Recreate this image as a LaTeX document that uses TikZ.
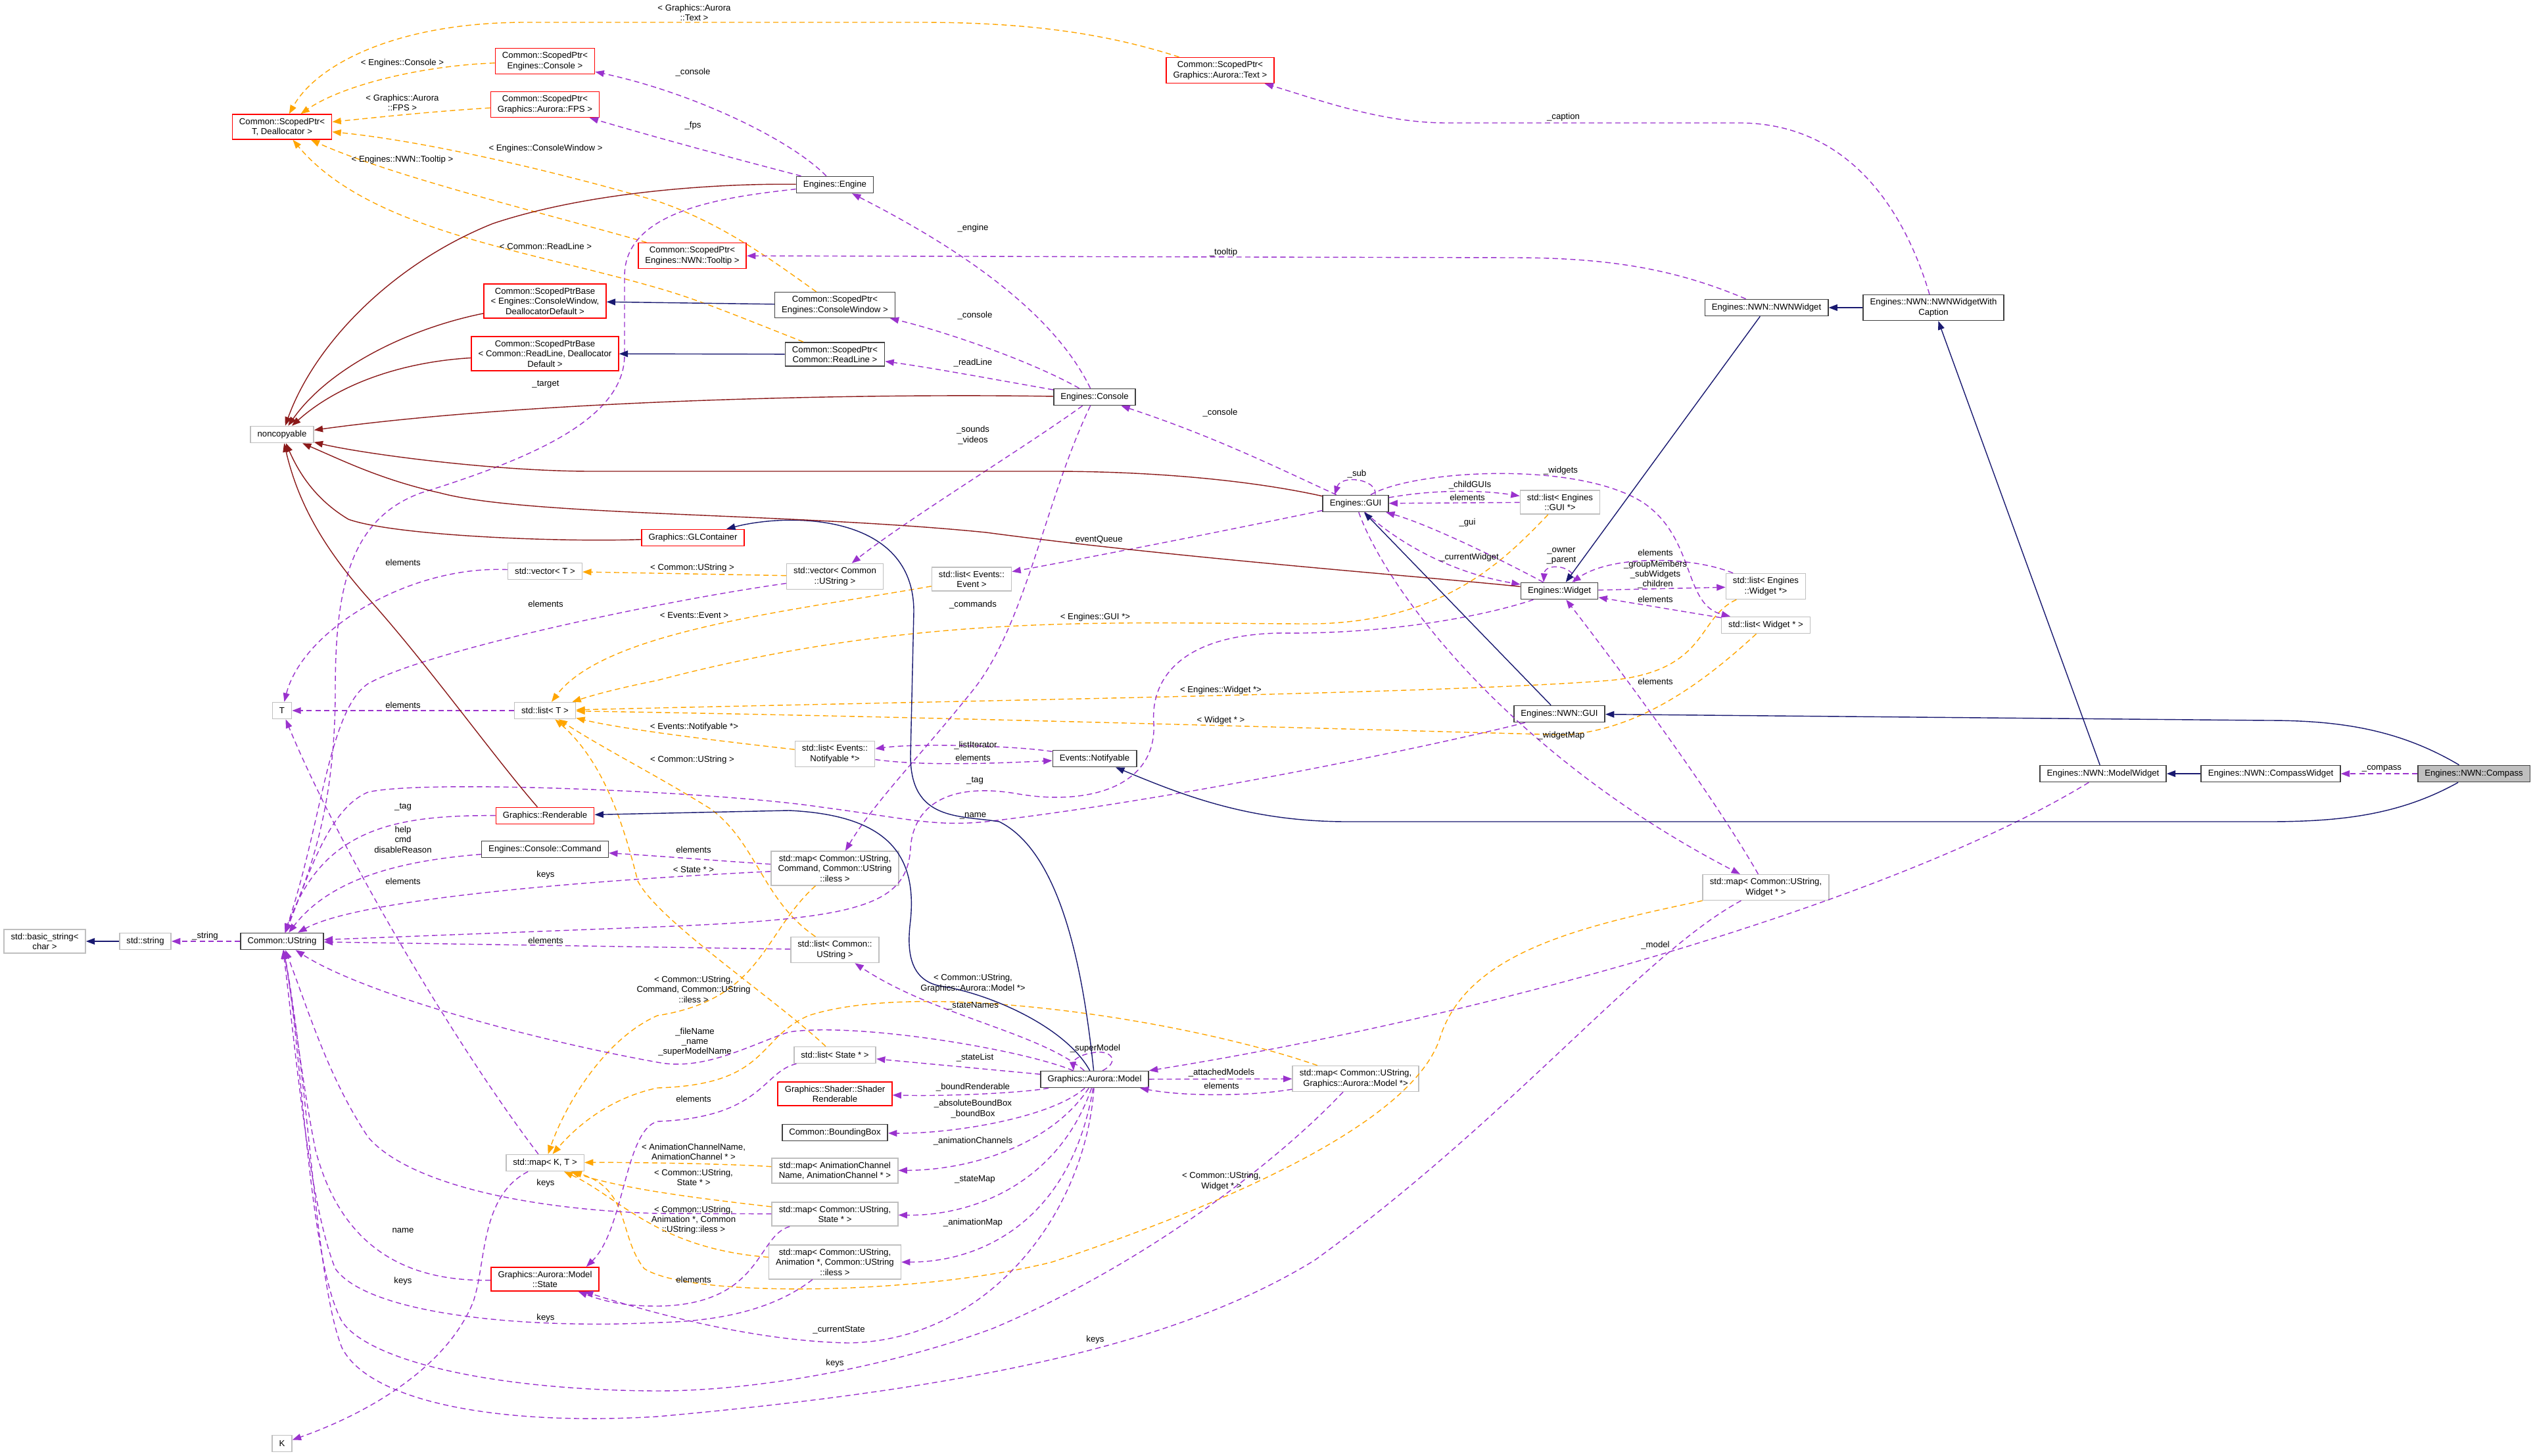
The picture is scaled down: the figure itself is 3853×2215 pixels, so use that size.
\documentclass[tikz,border=0pt]{standalone}
\usepackage{fontspec}
\setmainfont{Liberation Sans}
\usetikzlibrary{arrows.meta,calc}
\definecolor{usecol}{HTML}{9A32CD}
\definecolor{tmplcol}{HTML}{FFA500}
\definecolor{pubcol}{HTML}{191970}
\definecolor{privcol}{HTML}{8B1A1A}
\tikzset{
  cls/.style={draw=black!75, rectangle, inner xsep=3pt, inner ysep=1.6pt, minimum height=0.25cm, align=center, font=\fontsize{3.75}{4.35}\selectfont, line width=0.45pt},
  redcls/.style={cls, draw=red},
  greycls/.style={cls, draw=black!25},
  lbl/.style={inner sep=0pt, align=center, font=\fontsize{3.75}{4.35}\selectfont},
  usage/.style={draw=usecol, line width=0.4pt, dash pattern=on 2.3pt off 1.5pt, -{Triangle[length=3.8pt,width=2.8pt]}},
  templ/.style={usage, draw=tmplcol},
  pubinh/.style={draw=pubcol, line width=0.4pt, -{Triangle[length=3.8pt,width=2.8pt]}},
  privinh/.style={pubinh, draw=privcol}
}
\begin{document}
\begin{tikzpicture}[x=0.01cm, y=-0.01cm]
\useasboundingbox (0,0) rectangle (3853,2215);
% classes
\node[redcls] (ptrT) at (429,193) {Common::ScopedPtr\textless\\T, Deallocator \textgreater};
\node[redcls] (ptrCon) at (829,93) {Common::ScopedPtr\textless\\Engines::Console \textgreater};
\node[redcls] (ptrFPS) at (829,159) {Common::ScopedPtr\textless\\Graphics::Aurora::FPS \textgreater};
\node[redcls] (ptrTip) at (1053,389) {Common::ScopedPtr\textless\\Engines::NWN::Tooltip \textgreater};
\node[redcls] (baseCW) at (829,458) {Common::ScopedPtrBase\\\textless{} Engines::ConsoleWindow,\\DeallocatorDefault \textgreater};
\node[redcls] (baseRL) at (829,538) {Common::ScopedPtrBase\\\textless{} Common::ReadLine, Deallocator\\Default \textgreater};
\node[greycls] (noncopy) at (429,661) {noncopyable};
\node[redcls] (ptrText) at (1856,107) {Common::ScopedPtr\textless\\Graphics::Aurora::Text \textgreater};
\node[cls] (engine) at (1270,281) {Engines::Engine};
\node[cls] (ptrCW) at (1270,464) {Common::ScopedPtr\textless\\Engines::ConsoleWindow \textgreater};
\node[cls] (ptrRL) at (1270,539) {Common::ScopedPtr\textless\\Common::ReadLine \textgreater};
\node[cls] (console) at (1665,604) {Engines::Console};
\node[cls] (nwnWidget) at (2687,468) {Engines::NWN::NWNWidget};
\node[cls] (nwnCaption) at (2941,468) {Engines::NWN::NWNWidgetWith\\Caption};
\node[cls] (gui) at (2062,766) {Engines::GUI};
\node[greycls] (listGUI) at (2373,764) {std::list\textless{} Engines\\::GUI *\textgreater};
\node[cls] (widget) at (2372,899) {Engines::Widget};
\node[greycls] (listEW) at (2686,892) {std::list\textless{} Engines\\::Widget *\textgreater};
\node[greycls] (listW) at (2686,951) {std::list\textless{} Widget * \textgreater};
\node[cls] (nwnGUI) at (2372,1086) {Engines::NWN::GUI};
\node[greycls] (mapW) at (2686,1350) {std::map\textless{} Common::UString,\\Widget * \textgreater};
\node[cls] (modelW) at (3199,1177) {Engines::NWN::ModelWidget};
\node[cls] (compassW) at (3454,1177) {Engines::NWN::CompassWidget};
\node[cls, fill=black!25] (compass) at (3763,1177) {Engines::NWN::Compass};
\node[redcls] (glc) at (1054,818) {Graphics::GLContainer};
\node[greycls] (vecT) at (829,869) {std::vector\textless{} T \textgreater};
\node[greycls] (T) at (429,1081) {T};
\node[greycls] (listT) at (829,1081) {std::list\textless{} T \textgreater};
\node[redcls] (rend) at (829,1241) {Graphics::Renderable};
\node[cls] (cmd) at (829,1292) {Engines::Console::Command};
\node[greycls] (bstr) at (68,1432) {std::basic\_string\textless\\char \textgreater};
\node[greycls] (sstr) at (221,1432) {std::string};
\node[cls] (ustr) at (429,1432) {Common::UString};
\node[greycls] (vecU) at (1270,877) {std::vector\textless{} Common\\::UString \textgreater};
\node[greycls] (listEv) at (1478,881) {std::list\textless{} Events::\\Event \textgreater};
\node[greycls] (listN) at (1270,1147) {std::list\textless{} Events::\\Notifyable *\textgreater};
\node[cls] (notif) at (1665,1154) {Events::Notifyable};
\node[greycls] (mapCmd) at (1270,1321) {std::map\textless{} Common::UString,\\Command, Common::UString\\::iless \textgreater};
\node[greycls] (listU) at (1270,1445) {std::list\textless{} Common::\\UString \textgreater};
\node[greycls] (mapKT) at (829,1769) {std::map\textless{} K, T \textgreater};
\node[redcls] (state) at (829,1946) {Graphics::Aurora::Model\\::State};
\node[greycls] (K) at (429,2196) {K};
\node[greycls] (listS) at (1270,1605) {std::list\textless{} State * \textgreater};
\node[cls] (model) at (1665,1642) {Graphics::Aurora::Model};
\node[greycls] (mapM) at (2062,1641) {std::map\textless{} Common::UString,\\Graphics::Aurora::Model *\textgreater};
\node[redcls] (shader) at (1270,1664) {Graphics::Shader::Shader\\Renderable};
\node[cls] (bbox) at (1270,1723) {Common::BoundingBox};
\node[greycls] (mapAC) at (1270,1781) {std::map\textless{} AnimationChannel\\Name, AnimationChannel * \textgreater};
\node[greycls] (mapS) at (1270,1847) {std::map\textless{} Common::UString,\\State * \textgreater};
\node[greycls] (mapA) at (1270,1920) {std::map\textless{} Common::UString,\\Animation *, Common::UString\\::iless \textgreater};

%------------------------------------------------
% template instances
\draw[templ] (ptrText) .. controls (1680,50) and (1560,34) .. (1400,34) -- (800,34) .. controls (600,34) and (480,100) .. (ptrT);
\draw[templ] (ptrCon) .. controls (640,100) and (520,130) .. (ptrT);
\draw[templ] (ptrFPS) .. controls (650,170) and (560,180) .. (ptrT);
\draw[templ] (ptrCW) .. controls (1180,400) and (1100,340) .. (1000,306) .. controls (850,262) and (650,215) .. (ptrT);
\draw[templ] (ptrTip) .. controls (850,330) and (600,270) .. (ptrT);
\draw[templ] (ptrRL) .. controls (1120,480) and (1060,455) .. (1000,438) .. controls (800,380) and (560,350) .. (ptrT);
\draw[templ] (vecU) -- (vecT);
\draw[templ] (listEv) .. controls (1200,930) and (920,960) .. (listT);
\draw[templ] (listGUI) .. controls (2290,850) and (2200,945) .. (2000,949) .. controls (1700,949) and (1400,930) .. (1000,1035) .. controls (950,1045) and (910,1055) .. (listT);
\draw[templ] (listEW) .. controls (2580,940) and (2600,1020) .. (2450,1035) .. controls (2200,1055) and (1500,1065) .. (listT);
\draw[templ] (listW) .. controls (2600,1030) and (2500,1110) .. (2380,1118) .. controls (2000,1108) and (1400,1090) .. (listT);
\draw[templ] (listN) .. controls (1100,1128) and (950,1110) .. (listT);
\draw[templ] (listU) .. controls (1160,1370) and (1150,1280) .. (1080,1230) .. controls (1000,1180) and (920,1140) .. (listT);
\draw[templ] (listS) .. controls (1180,1520) and (1000,1400) .. (970,1340) .. controls (950,1260) and (920,1160) .. (listT);
\draw[templ] (mapCmd) .. controls (1160,1420) and (1160,1520) .. (1000,1545) .. controls (920,1580) and (860,1680) .. (mapKT);
\draw[templ] (mapM) .. controls (1800,1550) and (1400,1490) .. (1230,1545) .. controls (1150,1580) and (1170,1650) .. (1000,1655) .. controls (930,1670) and (880,1710) .. (mapKT);
\draw[templ] (mapAC) .. controls (1100,1770) and (950,1768) .. (mapKT);
\draw[templ] (mapS) .. controls (1080,1825) and (950,1810) .. (mapKT);
\draw[templ] (mapA) .. controls (1000,1900) and (940,1820) .. (mapKT);
\draw[templ] (mapW) .. controls (2400,1410) and (2230,1450) .. (2190,1580) .. controls (2150,1700) and (1900,1820) .. (1600,1920) .. controls (1400,1970) and (1050,1975) .. (980,1930) .. controls (940,1880) and (960,1810) .. (mapKT);

%------------------------------------------------
% members
\draw[usage] (engine) .. controls (1200,210) and (1050,140) .. (ptrCon);
\draw[usage] (engine) .. controls (1150,250) and (1000,210) .. (ptrFPS);
\draw[usage] (nwnWidget) .. controls (2550,410) and (2450,392) .. (2300,392) -- (ptrTip);
\draw[usage] (nwnCaption) .. controls (2900,330) and (2820,190) .. (2650,187) -- (2200,187) .. controls (2100,187) and (2000,150) .. (ptrText);
\draw[usage] (console) .. controls (1600,470) and (1450,373) .. (engine);
\draw[usage] (console) .. controls (1570,550) and (1440,505) .. (ptrCW);
\draw[usage] (console) .. controls (1500,575) and (1420,560) .. (ptrRL);
\draw[usage] (gui) .. controls (1950,715) and (1850,665) .. (console);
\draw[usage] (console) .. controls (1560,680) and (1380,790) .. (vecU);
\draw[usage] (console) .. controls (1590,760) and (1560,950) .. (1480,1050) .. controls (1400,1150) and (1330,1220) .. (mapCmd);
\draw[usage] (gui) .. controls (1900,800) and (1700,840) .. (listEv);
\draw[usage] ($(gui.north)+(30,0)$) .. controls (2095,728) and (2040,722) .. ($(gui.north)+(-32,0)$);
\draw[usage] (gui) .. controls (2180,745) and (2250,745) .. (listGUI);
\draw[usage] (listGUI) -- (gui);
\draw[usage] (widget) .. controls (2300,860) and (2180,800) .. (gui);
\draw[usage] (gui) .. controls (2120,820) and (2200,870) .. (widget);
\draw[usage] ($(widget.north)+(23,0)$) .. controls (2398,860) and (2350,855) .. ($(widget.north)+(-24,0)$);
\draw[usage] (listEW) .. controls (2570,845) and (2450,845) .. (widget);
\draw[usage] (widget) -- (listEW);
\draw[usage] (listW) -- (widget);
\draw[usage] (gui) .. controls (2150,715) and (2400,700) .. (2500,765) .. controls (2580,820) and (2560,920) .. (listW);
\draw[usage] (gui) .. controls (2110,900) and (2300,1150) .. (mapW);
\draw[usage] (mapW) .. controls (2600,1200) and (2450,1000) .. (widget);
\draw[usage] (compass) -- (compassW);
\draw[usage] (modelW) .. controls (2900,1360) and (2300,1540) .. (model);
\draw[usage] (notif) .. controls (1550,1135) and (1400,1130) .. (listN);
\draw[usage] (listN) .. controls (1400,1165) and (1500,1162) .. (notif);
\draw[usage] (nwnGUI) .. controls (2200,1130) and (1800,1215) .. (1500,1250) .. controls (1420,1258) and (1380,1245) .. (1250,1228) .. controls (1100,1205) and (650,1185) .. (560,1205) .. controls (500,1230) and (470,1330) .. (ustr);
\draw[usage] (widget) .. controls (2250,940) and (2100,965) .. (1950,963) .. controls (1800,965) and (1750,1030) .. (1755,1100) .. controls (1760,1200) and (1650,1225) .. (1550,1208) .. controls (1450,1190) and (1390,1220) .. (1385,1290) .. controls (1380,1380) and (1300,1398) .. (1000,1410) -- (ustr);
\draw[usage] (engine) .. controls (1100,300) and (950,320) .. (950,420) -- (950,540) .. controls (950,640) and (800,700) .. (640,750) .. controls (530,790) and (510,900) .. (510,1050) .. controls (510,1250) and (460,1350) .. (ustr);
\draw[usage] (vecT) .. controls (620,860) and (460,960) .. (T);
\draw[usage] (vecU) .. controls (1000,915) and (650,990) .. (560,1040) .. controls (500,1080) and (490,1250) .. (ustr);
\draw[usage] (listT) -- (T);
\draw[usage] (mapKT) .. controls (700,1600) and (520,1300) .. (T);
\draw[usage] (rend) .. controls (600,1240) and (490,1260) .. (ustr);
\draw[usage] (cmd) .. controls (600,1310) and (500,1340) .. (ustr);
\draw[usage] (mapCmd) .. controls (1000,1334) and (560,1360) .. (ustr);
\draw[usage] (mapCmd) .. controls (1100,1310) and (1000,1302) .. (cmd);
\draw[usage] (listU) -- (ustr);
\draw[usage] (ustr) -- (sstr);
\draw[usage] (model) .. controls (1550,1595) and (1300,1555) .. (1200,1570) .. controls (1140,1590) and (1070,1630) .. (1000,1616) .. controls (800,1580) and (550,1510) .. (ustr);
\draw[usage] (state) .. controls (620,1950) and (520,1900) .. (480,1750) .. controls (460,1650) and (445,1520) .. (ustr);
\draw[usage] (mapS) -- (1000,1846) .. controls (800,1840) and (620,1800) .. (560,1730) .. controls (500,1640) and (470,1540) .. (ustr);
\draw[usage] (mapA) .. controls (1180,1990) and (1100,2010) .. (1000,2012) .. controls (800,2022) and (560,2000) .. (510,1930) .. controls (470,1830) and (450,1600) .. (ustr);
\draw[usage] (mapM) .. controls (1950,1760) and (1750,1920) .. (1510,2021) .. controls (1350,2080) and (1150,2116) .. (1000,2116) .. controls (750,2115) and (560,2070) .. (520,2010) .. controls (470,1920) and (460,1600) .. (ustr);
\draw[usage] (mapW) .. controls (2500,1450) and (2300,1700) .. (2000,1917) .. controls (1800,2040) and (1500,2110) .. (1000,2155) .. controls (750,2170) and (560,2130) .. (520,2050) .. controls (480,1950) and (470,1650) .. (ustr);
\draw[usage] (model) .. controls (1650,1850) and (1500,2040) .. (1290,2043) .. controls (1150,2040) and (1000,2000) .. (state);
\draw[usage] (mapS) .. controls (1150,1880) and (1160,1985) .. (1000,1987) .. controls (950,1987) and (920,1980) .. (state);
\draw[usage] (listS) .. controls (1160,1630) and (1160,1700) .. (1000,1706) .. controls (950,1720) and (950,1870) .. ([xshift=-0.2cm]state.north east);
\draw[usage] (model) -- (listS);
\draw[usage] (model) .. controls (1580,1570) and (1420,1545) .. (listU);
\draw[usage] ($(model.north)+(12,0)$) .. controls (1705,1615) and (1690,1595) .. (1660,1602) .. controls (1640,1605) and (1632,1615) .. ($(model.north)+(-32,0)$);
\draw[usage] (model) .. controls (1560,1662) and (1450,1668) .. (shader);
\draw[usage] (model) .. controls (1600,1700) and (1450,1725) .. (bbox);
\draw[usage] (model) .. controls (1600,1740) and (1480,1780) .. (mapAC);
\draw[usage] (model) .. controls (1610,1800) and (1480,1850) .. (mapS);
\draw[usage] (model) .. controls (1630,1850) and (1500,1920) .. (mapA);
\draw[usage] (model) -- (mapM);
\draw[usage] (mapM) .. controls (1900,1668) and (1800,1668) .. (model);
\draw[usage] (mapKT) .. controls (730,1820) and (740,1920) .. (720,1980) .. controls (680,2080) and (560,2150) .. (K);

%------------------------------------------------
% inheritance
\draw[pubinh] (ptrCW) -- (baseCW);
\draw[pubinh] (ptrRL) -- (baseRL);
\draw[pubinh] (sstr) -- (bstr);
\draw[pubinh] (model) .. controls (1650,1500) and (1620,1300) .. (1520,1250) .. controls (1460,1240) and (1385,1250) .. (1385,1150) -- (1390,930) .. controls (1390,780) and (1200,780) .. (glc);
\draw[pubinh] (model) .. controls (1620,1560) and (1500,1510) .. (1430,1500) .. controls (1380,1490) and (1380,1440) .. (1385,1400) .. controls (1395,1300) and (1350,1240) .. (1200,1233) -- (rend);
\draw[pubinh] (compassW) -- (modelW);
\draw[pubinh] (modelW) -- (nwnCaption);
\draw[pubinh] (nwnCaption) -- (nwnWidget);
\draw[pubinh] (nwnWidget) -- (widget);
\draw[pubinh] (nwnGUI) -- (gui);
\draw[pubinh] (compass) .. controls (3650,1110) and (3560,1096) .. (3450,1096) -- (nwnGUI);
\draw[pubinh] (compass) .. controls (3650,1240) and (3560,1250) .. (3450,1250) -- (2050,1250) .. controls (1900,1250) and (1800,1210) .. (notif);
\draw[privinh] (engine) .. controls (1100,279) and (900,290) .. (750,340) .. controls (600,400) and (480,520) .. (noncopy);
\draw[privinh] (baseCW) .. controls (620,500) and (500,560) .. (noncopy);
\draw[privinh] (baseRL) .. controls (620,550) and (520,580) .. (noncopy);
\draw[privinh] (console) .. controls (1300,598) and (800,610) .. (noncopy);
\draw[privinh] (gui) .. controls (1900,730) and (1750,717) .. (1600,717) -- (900,717) .. controls (750,717) and (550,690) .. (noncopy);
\draw[privinh] (widget) .. controls (2200,880) and (1800,850) .. (1500,810) .. controls (1200,780) and (800,785) .. (670,750) .. controls (580,730) and (520,700) .. (noncopy);
\draw[privinh] (glc) .. controls (850,825) and (600,815) .. (530,790) .. controls (480,760) and (455,720) .. (noncopy);
\draw[privinh] (rend) .. controls (750,1150) and (650,1010) .. (560,910) .. controls (480,820) and (450,750) .. (noncopy);

%------------------------------------------------
% edge labels
\node[lbl] (l1) at (1056,19) {\textless{} Graphics::Aurora\\::Text \textgreater};
\node[lbl] (l2) at (612,96) {\textless{} Engines::Console \textgreater};
\node[lbl] (l3) at (612,156) {\textless{} Graphics::Aurora\\::FPS \textgreater};
\node[lbl] (l4) at (830,226) {\textless{} Engines::ConsoleWindow \textgreater};
\node[lbl] (l5) at (612,243) {\textless{} Engines::NWN::Tooltip \textgreater};
\node[lbl] (l6) at (830,375) {\textless{} Common::ReadLine \textgreater};
\node[lbl] (l7) at (830,585) {\_target};
\node[lbl] (l8) at (1054,110) {\_console};
\node[lbl] (l9) at (1054,191) {\_fps};
\node[lbl] (l10) at (1480,347) {\_engine};
\node[lbl] (l11) at (1861,384) {\_tooltip};
\node[lbl] (l12) at (1483,480) {\_console};
\node[lbl] (l13) at (1480,552) {\_readLine};
\node[lbl] (l14) at (1856,628) {\_console};
\node[lbl] (l15) at (1480,662) {\_sounds\\\_videos};
\node[lbl] (l16) at (2378,178) {\_caption};
\node[lbl] (l17) at (2064,721) {\_sub};
\node[lbl] (l18) at (2374,716) {\_widgets};
\node[lbl] (l19) at (2236,738) {\_childGUIs};
\node[lbl] (l20) at (2232,757) {elements};
\node[lbl] (l21) at (2232,795) {\_gui};
\node[lbl] (l22) at (2235,848) {\_currentWidget};
\node[lbl] (l23) at (2375,846) {\_owner\\\_parent};
\node[lbl] (l24) at (2518,841) {elements};
\node[lbl] (l25) at (2518,874) {\_groupMembers\\\_subWidgets\\\_children};
\node[lbl] (l26) at (2518,912) {elements};
\node[lbl] (l27) at (2518,1037) {elements};
\node[lbl] (l28) at (2375,1119) {\_widgetMap};
\node[lbl] (l29) at (2518,1438) {\_model};
\node[lbl] (l30) at (3623,1169) {\_compass};
\node[lbl] (l31) at (613,856) {elements};
\node[lbl] (l32) at (830,919) {elements};
\node[lbl] (l33) at (613,1073) {elements};
\node[lbl] (l34) at (613,1228) {\_tag};
\node[lbl] (l35) at (613,1277) {help\\cmd\\disableReason};
\node[lbl] (l36) at (830,1331) {keys};
\node[lbl] (l37) at (613,1341) {elements};
\node[lbl] (l38) at (312,1424) {\_string};
\node[lbl] (l39) at (830,1431) {elements};
\node[lbl] (l40) at (1053,864) {\textless{} Common::UString \textgreater};
\node[lbl] (l41) at (1668,821) {\_eventQueue};
\node[lbl] (l42) at (1480,920) {\_commands};
\node[lbl] (l43) at (1056,936) {\textless{} Events::Event \textgreater};
\node[lbl] (l44) at (1666,939) {\textless{} Engines::GUI *\textgreater};
\node[lbl] (l45) at (1857,1050) {\textless{} Engines::Widget *\textgreater};
\node[lbl] (l46) at (1857,1096) {\textless{} Widget * \textgreater};
\node[lbl] (l47) at (1056,1106) {\textless{} Events::Notifyable *\textgreater};
\node[lbl] (l48) at (1484,1134) {\_listIterator};
\node[lbl] (l49) at (1480,1153) {elements};
\node[lbl] (l50) at (1053,1156) {\textless{} Common::UString \textgreater};
\node[lbl] (l51) at (1483,1188) {\_tag};
\node[lbl] (l52) at (1480,1241) {\_name};
\node[lbl] (l53) at (1055,1293) {elements};
\node[lbl] (l54) at (1055,1323) {\textless{} State * \textgreater};
\node[lbl] (l55) at (1480,1496) {\textless{} Common::UString,\\Graphics::Aurora::Model *\textgreater};
\node[lbl] (l56) at (1055,1505) {\textless{} Common::UString,\\Command, Common::UString\\::iless \textgreater};
\node[lbl] (l57) at (830,1800) {keys};
\node[lbl] (l58) at (613,1872) {name};
\node[lbl] (l59) at (613,1949) {keys};
\node[lbl] (l60) at (830,2005) {keys};
\node[lbl] (l61) at (1057,1585) {\_fileName\\\_name\\\_superModelName};
\node[lbl] (l62) at (1480,1530) {\_stateNames};
\node[lbl] (l63) at (1666,1595) {\_superModel};
\node[lbl] (l64) at (1483,1609) {\_stateList};
\node[lbl] (l65) at (1858,1632) {\_attachedModels};
\node[lbl] (l66) at (1858,1652) {elements};
\node[lbl] (l67) at (1055,1672) {elements};
\node[lbl] (l68) at (1480,1654) {\_boundRenderable};
\node[lbl] (l69) at (1480,1687) {\_absoluteBoundBox\\\_boundBox};
\node[lbl] (l70) at (1480,1736) {\_animationChannels};
\node[lbl] (l71) at (1055,1752) {\textless{} AnimationChannelName,\\AnimationChannel * \textgreater};
\node[lbl] (l72) at (1483,1794) {\_stateMap};
\node[lbl] (l73) at (1055,1791) {\textless{} Common::UString,\\State * \textgreater};
\node[lbl] (l74) at (1480,1860) {\_animationMap};
\node[lbl] (l75) at (1055,1856) {\textless{} Common::UString,\\Animation *, Common\\::UString::iless \textgreater};
\node[lbl] (l76) at (1055,1947) {elements};
\node[lbl] (l77) at (1276,2023) {\_currentState};
\node[lbl] (l78) at (1270,2074) {keys};
\node[lbl] (l79) at (1858,1797) {\textless{} Common::UString,\\Widget * \textgreater};
\node[lbl] (l80) at (1666,2038) {keys};
\end{tikzpicture}
\end{document}
